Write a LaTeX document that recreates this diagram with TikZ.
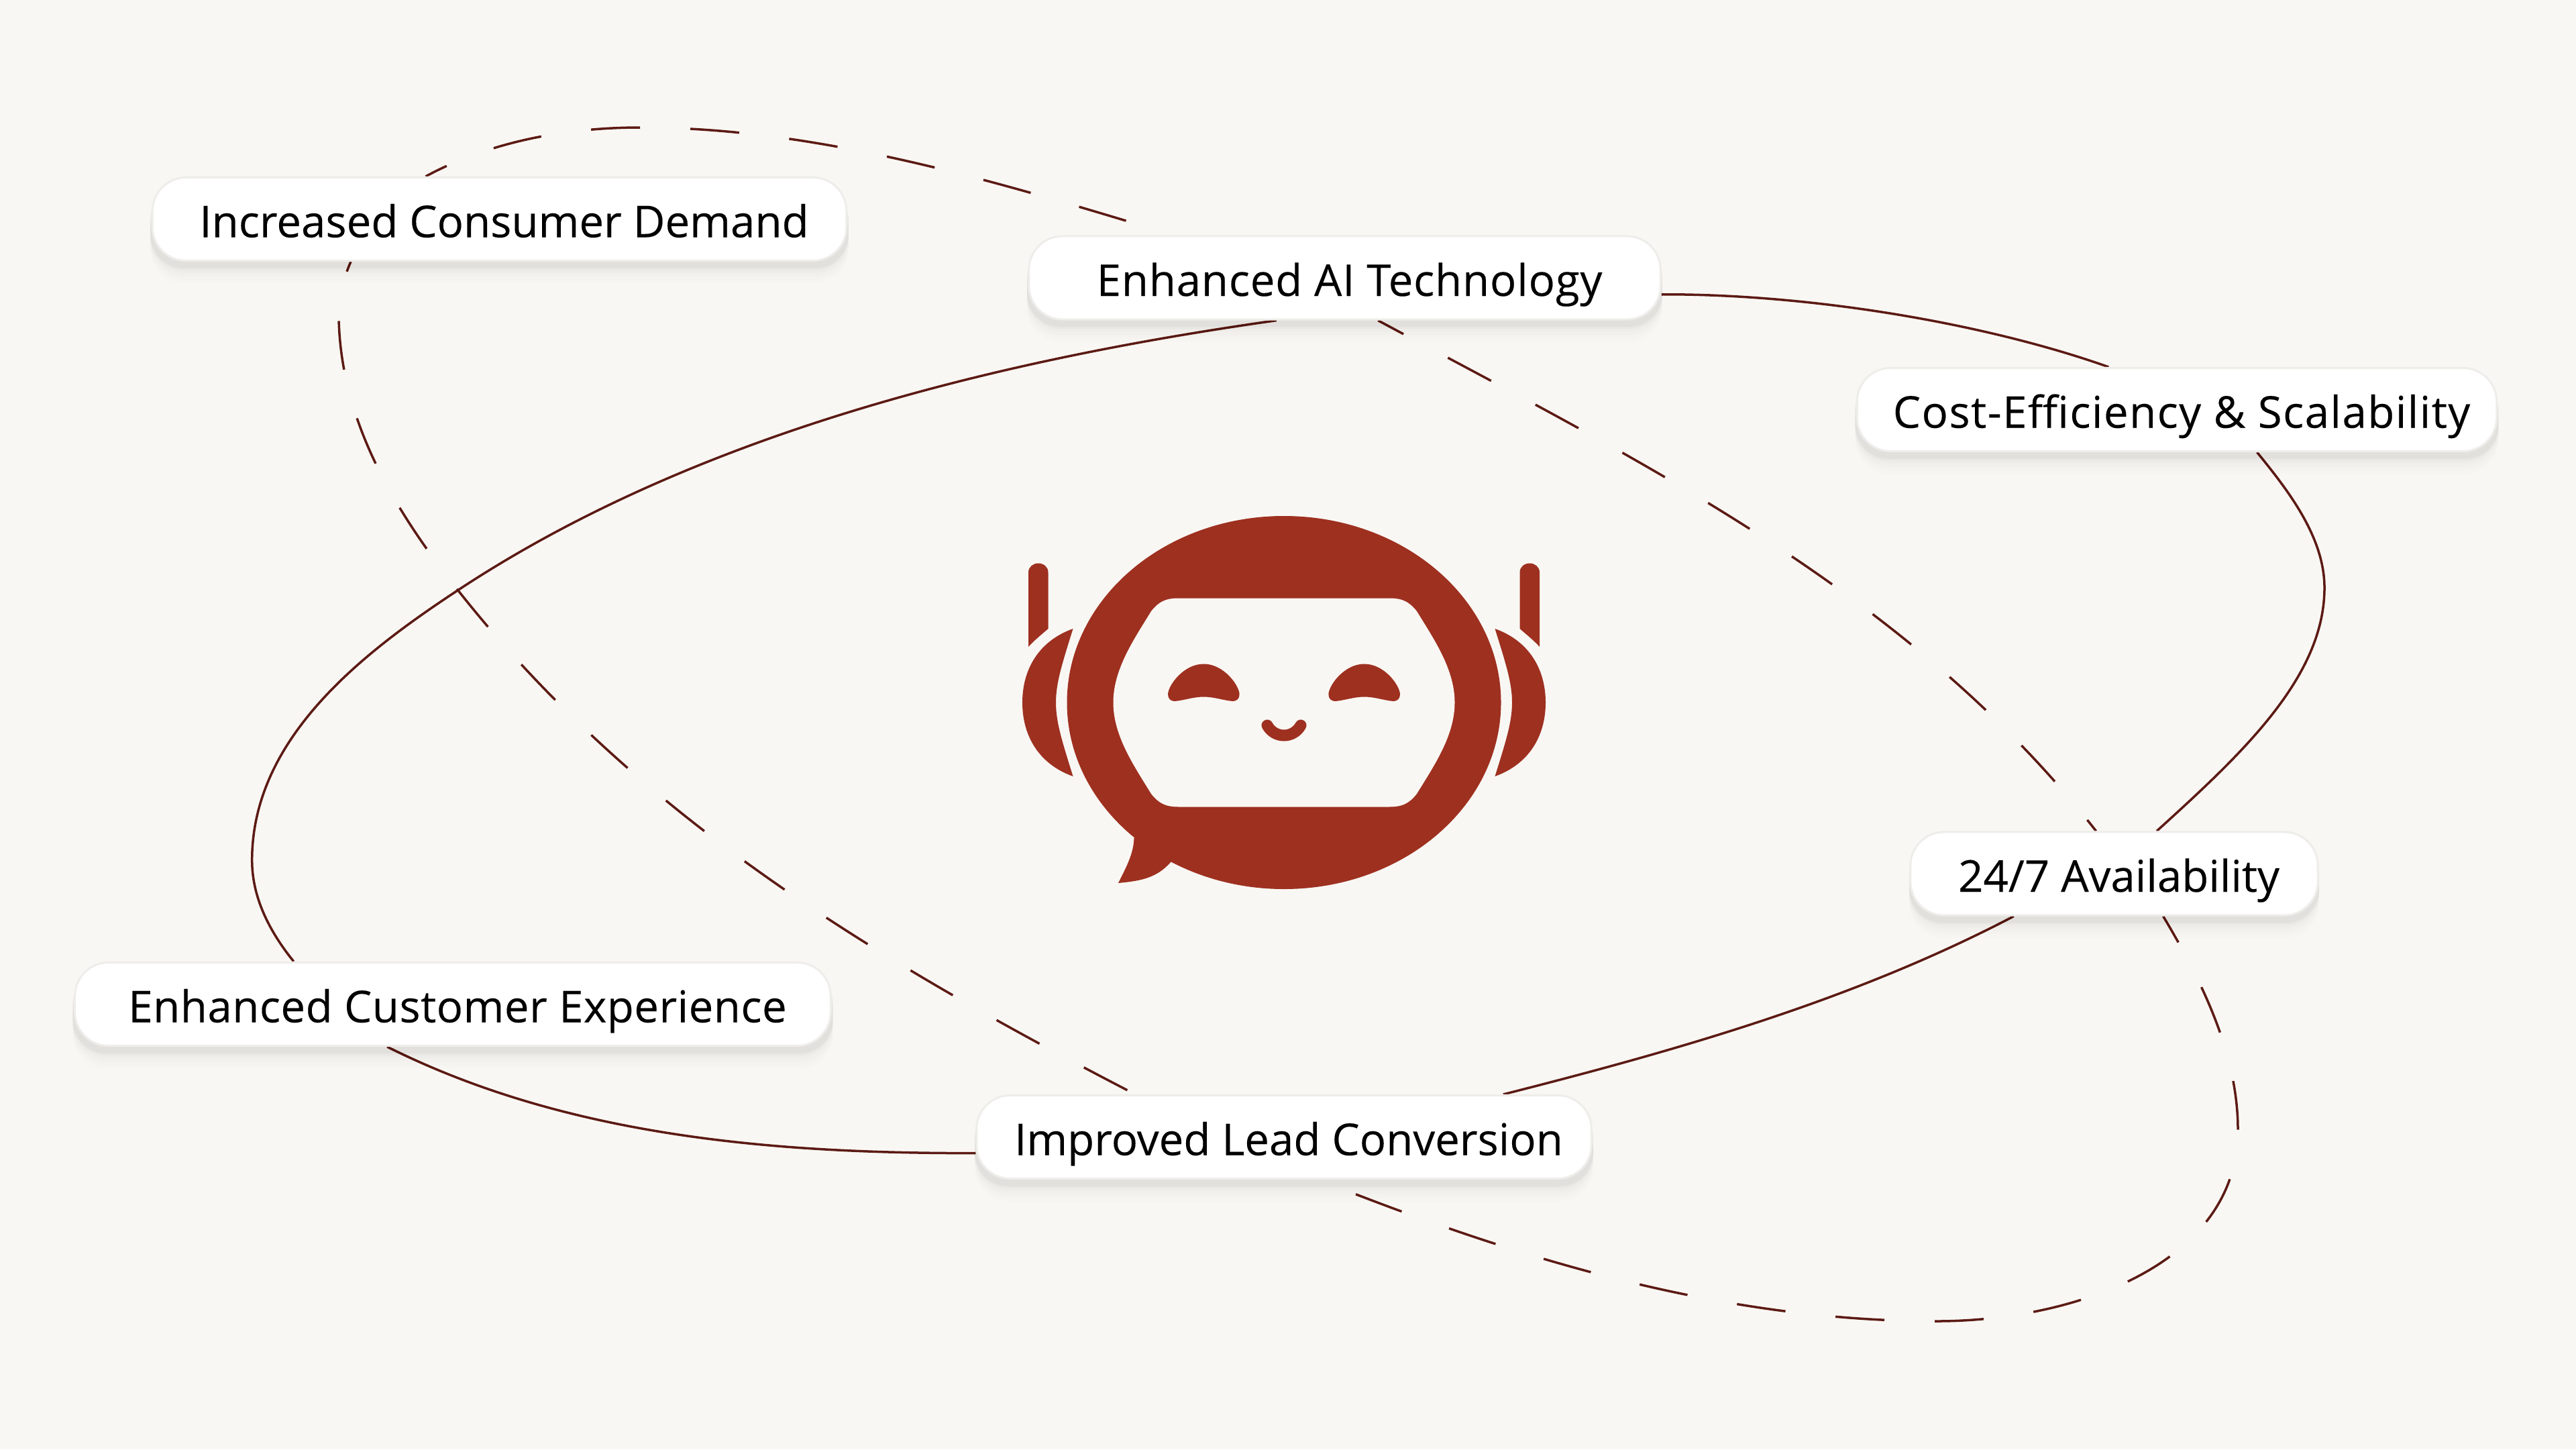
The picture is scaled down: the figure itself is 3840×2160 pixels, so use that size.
\documentclass[tikz,border=0pt]{standalone}
\usepackage{fontspec}
\setmainfont{Open Sans}
\newfontfamily\pillfont[FakeBold=0.2]{Open Sans}
\usetikzlibrary{shadows, backgrounds}
\definecolor{pagebg}{RGB}{249, 247, 243}
\definecolor{botred}{RGB}{158, 48, 32}
\definecolor{linkbrown}{RGB}{92, 26, 20}
\definecolor{pillrim}{RGB}{238, 237, 234}
\begin{document}
\begin{tikzpicture}[x=0.01cm, y=-0.01cm,
  softshade/.style 2 args={general shadow={shadow yshift=-#1cm, shadow scale=1.006, fill=black, opacity=#2}},
  pill/.style={draw=pillrim, line width=0.03cm, fill=white, rounded corners=0.5cm, minimum height=1.24cm, inner sep=0pt,
    text height=0.64cm, text depth=0.1cm, font=\pillfont\fontsize{18.6}{23}\selectfont, execute at begin node=\hspace*{0.14cm},
    softshade={0.33}{0.006}, softshade={0.28}{0.008}, softshade={0.23}{0.01}, softshade={0.18}{0.012}, softshade={0.14}{0.02}, softshade={0.11}{0.03}},
  spaced/.style={font=\pillfont\addfontfeature{LetterSpace=#1}\fontsize{18.6}{23}\selectfont},
  solidlink/.style={draw=linkbrown, line width=0.035cm},
  dashlink/.style={solidlink, dash pattern=on 0.73cm off 0.75cm, dash phase=#1},
  botfill/.style={fill=botred, draw=none}
]
  \node[pill, minimum width=10.34cm] (demand) at (744.5, 326.5) {Increased Consumer Demand};
  \node[pill, spaced=1.2, minimum width=9.41cm] (tech) at (2004.5, 414) {Enhanced AI Technology};
  \node[pill, spaced=2.2, minimum width=9.53cm] (cost) at (3245, 610.5) {Cost-Efficiency \& Scalability};
  \node[pill, minimum width=6.07cm] (avail) at (3151.5, 1302) {24/7 Availability};
  \node[pill, spaced=0.7, minimum width=11.26cm] (exper) at (675, 1496.5) {Enhanced Customer Experience};
  \node[pill, minimum width=9.16cm] (lead) at (1914, 1694.5) {Improved Lead Conversion};

  \begin{scope}[on background layer]
    \fill[pagebg] (0, 0) rectangle (3840, 2160);
    \draw[solidlink] (tech.-3.3) .. controls (2700, 438) and (2960, 482) .. (cost.148.95);
    \draw[solidlink] (cost.-28.2) .. controls (3410, 730) and (3465, 800) .. (3465, 876)
      .. controls (3465, 1010) and (3340, 1125) .. (avail.45.2);
    \draw[solidlink] (avail.-157.07) .. controls (2765, 1489.5) and (2505, 1564) .. (lead.11.26);
    \draw[solidlink] (lead.183.07) .. controls (1157, 1719) and (847, 1695) .. (exper.213.1);
    \draw[solidlink] (exper.165.9) .. controls (395, 1380) and (375.7, 1330) .. (375.7, 1282)
      .. controls (375.7, 1100) and (540, 973.5) .. (682, 880)
      .. controls (1030, 650) and (1475, 538) .. (tech.212.5);

    \draw[dashlink=0.38cm] (demand.150.92) .. controls (734, 209) and (850, 190) .. (954, 190)
      .. controls (1224, 190) and (1490, 272) .. (tech.166.6);
    \draw[dashlink=0.30cm] (tech.-52.5) .. controls (2448, 689) and (2845, 882) .. (avail.113.9);
    \draw[dashlink=0.28cm] (avail.-41.9) .. controls (3286, 1468) and (3336, 1575) .. (3336, 1684)
      .. controls (3336, 1885) and (3090, 1969) .. (2887, 1969)
      .. controls (2567, 1969) and (2262, 1876) .. (lead.-51.1);
    \draw[dashlink=1.345cm] (lead.164.8) .. controls (1302, 1429) and (946, 1215) .. (679, 875)
      .. controls (586, 757.5) and (508, 625) .. (505, 475)
      .. controls (504, 445) and (512, 415) .. (demand.196);
  \end{scope}

  \begin{scope}[shift={(1914, 1047)}]
    \fill[botred] (0, 0) ellipse [x radius=323.5, y radius=278];
    \fill[botred] (-223.6, 202) .. controls (-224, 225) and (-235, 245) .. (-247, 269)
      .. controls (-215, 266) and (-190, 262) .. (-169, 238) -- (-120, 200) -- cycle;
    \fill[pagebg] (-156, -155.5) -- (156, -155.5) .. controls (176, -155.5) and (186, -151) .. (198, -136)
      .. controls (223, -95) and (254.5, -50) .. (254.5, 0) .. controls (254.5, 50) and (223, 95) .. (198, 136)
      .. controls (186, 151) and (176, 155.5) .. (156, 155.5) -- (-156, 155.5)
      .. controls (-176, 155.5) and (-186, 151) .. (-198, 136) .. controls (-223, 95) and (-254.5, 50) .. (-254.5, 0)
      .. controls (-254.5, -50) and (-223, -95) .. (-198, -136) .. controls (-186, -151) and (-176, -155.5) .. (-156, -155.5) -- cycle;
    \foreach \side in {1, -1} {
      \begin{scope}[xscale=\side]
        \path[botfill] (-381, -83) -- (-381, -194) .. controls (-381, -202) and (-374, -207.5) .. (-366.5, -207.5)
          .. controls (-358, -207.5) and (-351.5, -202) .. (-351.5, -194) -- (-351.5, -110) .. controls (-363, -100) and (-373, -92) .. (-381, -83) -- cycle;
        \path[botfill] (-314.5, -110) .. controls (-365, -92) and (-390, -50) .. (-390, 0)
          .. controls (-390, 50) and (-365, 92) .. (-314.5, 110)
          .. controls (-330, 60) and (-340, 30) .. (-340, 0)
          .. controls (-340, -30) and (-330, -60) .. (-314.5, -110) -- cycle;
        \path[botfill] (-119.7, -57.5) .. controls (-150, -57.5) and (-173, -25) .. (-173, -12)
          .. controls (-173, -5) and (-168, -2) .. (-163, -2) .. controls (-150, -3) and (-135, -8.5) .. (-119.7, -8.5)
          .. controls (-104.4, -8.5) and (-89.4, -3) .. (-76.4, -2) .. controls (-71.4, -2) and (-66.4, -5) .. (-66.4, -12)
          .. controls (-66.4, -25) and (-89.4, -57.5) .. (-119.7, -57.5) -- cycle;
      \end{scope}
    }
    \draw[botred, line width=0.17cm, line cap=round] (-25, 34) .. controls (-14, 54) and (14, 54) .. (25, 34);
  \end{scope}
\end{tikzpicture}
\end{document}
